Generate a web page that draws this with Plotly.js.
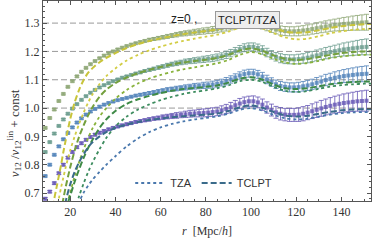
<!DOCTYPE html>
<html>
<head>
<meta charset="utf-8">
<script src="https://cdn.plot.ly/plotly-3.0.1.min.js"></script>
<style>html,body{margin:0;padding:0;background:#fff;}#chart{width:374px;height:242px;}</style>
</head>
<body>
<div id="chart"></div>
<script>
// separations r (simulation points)
const rSim = [9,11,13,15,17,19,21,23,25,27,29,31,33,35,37,39,41,43,45,47,49,51,53,55,57,59,61,63,65,67,69,71,73,75,77,79,81,83,85,87,89,91,93,95,97,99,101,103,105,107,109,111,113,115,117,119,121,123,125,127,129,131,133,135,137,139,141,143,145,147,149,151];
// simulation values (with offsets), four groups top to bottom
const sim1 = [0.93,0.965,0.995,1.025,1.05,1.075,1.095,1.112,1.128,1.142,1.155,1.166,1.176,1.185,1.193,1.2,1.207,1.213,1.219,1.224,1.229,1.233,1.237,1.241,1.244,1.247,1.25,1.253,1.256,1.259,1.262,1.264,1.266,1.268,1.27,1.272,1.274,1.276,1.278,1.281,1.285,1.289,1.293,1.298,1.301,1.303,1.302,1.299,1.294,1.288,1.282,1.277,1.274,1.272,1.271,1.271,1.272,1.274,1.276,1.279,1.282,1.285,1.288,1.291,1.293,1.295,1.297,1.298,1.3,1.301,1.302,1.303];
const sim2 = [0.845,0.88,0.91,0.937,0.96,0.98,0.998,1.014,1.029,1.042,1.054,1.064,1.073,1.081,1.088,1.095,1.101,1.107,1.112,1.117,1.122,1.126,1.131,1.135,1.139,1.143,1.147,1.151,1.155,1.158,1.161,1.164,1.166,1.168,1.17,1.172,1.174,1.176,1.179,1.183,1.188,1.194,1.201,1.208,1.213,1.216,1.216,1.212,1.205,1.196,1.188,1.181,1.176,1.173,1.172,1.172,1.173,1.175,1.178,1.182,1.186,1.19,1.194,1.198,1.201,1.204,1.207,1.209,1.211,1.213,1.215,1.216];
const sim3 = [0.76,0.8,0.835,0.865,0.89,0.912,0.932,0.949,0.964,0.977,0.988,0.997,1.005,1.012,1.018,1.023,1.028,1.032,1.036,1.04,1.044,1.047,1.05,1.053,1.056,1.059,1.062,1.065,1.067,1.069,1.071,1.073,1.075,1.077,1.078,1.08,1.081,1.083,1.086,1.09,1.095,1.101,1.108,1.115,1.12,1.123,1.123,1.119,1.111,1.101,1.092,1.084,1.078,1.075,1.073,1.073,1.074,1.077,1.08,1.084,1.089,1.094,1.099,1.103,1.107,1.11,1.113,1.115,1.117,1.119,1.12,1.121];
const sim4 = [0.68,0.705,0.735,0.77,0.8,0.825,0.845,0.862,0.876,0.888,0.898,0.906,0.913,0.919,0.925,0.93,0.935,0.939,0.943,0.947,0.951,0.954,0.957,0.96,0.963,0.965,0.968,0.97,0.972,0.974,0.976,0.978,0.98,0.981,0.982,0.983,0.984,0.986,0.988,0.992,0.997,1.003,1.01,1.016,1.021,1.024,1.024,1.02,1.012,1.002,0.993,0.985,0.98,0.977,0.976,0.976,0.977,0.98,0.984,0.989,0.994,0.999,1.004,1.008,1.012,1.015,1.018,1.02,1.022,1.024,1.025,1.026];
// error bars
const errA = [0.003,0.003,0.003,0.003,0.003,0.003,0.003,0.003,0.003,0.003,0.003,0.003,0.003,0.003,0.003,0.003,0.003,0.003,0.003,0.003,0.003,0.004,0.004,0.005,0.005,0.006,0.006,0.007,0.007,0.008,0.008,0.009,0.009,0.01,0.01,0.011,0.011,0.012,0.012,0.012,0.013,0.013,0.013,0.013,0.014,0.014,0.014,0.014,0.015,0.015,0.015,0.015,0.016,0.016,0.016,0.016,0.017,0.017,0.018,0.018,0.019,0.019,0.02,0.02,0.021,0.022,0.023,0.024,0.025,0.026,0.027,0.028];
const errB = [0.004,0.004,0.004,0.004,0.004,0.004,0.004,0.004,0.004,0.004,0.004,0.004,0.004,0.004,0.004,0.004,0.004,0.004,0.004,0.004,0.004,0.005,0.005,0.006,0.006,0.007,0.008,0.008,0.009,0.01,0.01,0.011,0.012,0.012,0.013,0.014,0.014,0.015,0.015,0.016,0.016,0.017,0.017,0.018,0.018,0.018,0.019,0.019,0.02,0.02,0.021,0.021,0.022,0.022,0.023,0.023,0.024,0.025,0.025,0.026,0.027,0.028,0.028,0.029,0.03,0.031,0.032,0.033,0.034,0.035,0.036,0.037];
// model curves
const rModel = [8,9,10,11,12,13,14,15,16,17,18,20,22,24,26,28,30,33,36,40,45,50,55,60,65,70,75,80,85,90,95,100,105,110,115,120,125,130,135,140,145,150,153];
const tclpt1 = [null,null,null,null,0.62,0.68,0.72,0.76,0.8,0.845,0.885,0.96,1.02,1.065,1.1,1.125,1.142,1.162,1.177,1.194,1.212,1.226,1.237,1.246,1.254,1.261,1.267,1.272,1.278,1.288,1.302,1.308,1.299,1.283,1.27,1.266,1.268,1.275,1.283,1.289,1.293,1.296,1.297];
const tza1 = [null,null,null,null,null,null,0.64,0.68,0.72,0.755,0.79,0.85,0.9,0.945,0.985,1.02,1.05,1.085,1.113,1.14,1.168,1.188,1.204,1.217,1.228,1.237,1.245,1.252,1.259,1.27,1.284,1.29,1.282,1.265,1.25,1.243,1.245,1.254,1.264,1.271,1.276,1.279,1.28];
const tclpt2 = [null,null,null,null,null,null,null,0.6,0.64,0.68,0.72,0.79,0.85,0.9,0.94,0.975,1.005,1.04,1.065,1.088,1.108,1.123,1.135,1.145,1.154,1.161,1.166,1.171,1.177,1.188,1.203,1.21,1.202,1.186,1.174,1.17,1.173,1.18,1.188,1.194,1.198,1.2,1.201];
const tza2 = [null,null,null,null,null,null,null,null,null,null,0.64,0.7,0.76,0.81,0.855,0.895,0.93,0.97,1.0,1.033,1.064,1.087,1.104,1.117,1.128,1.137,1.144,1.151,1.158,1.17,1.188,1.198,1.19,1.174,1.161,1.156,1.159,1.167,1.176,1.182,1.186,1.188,1.189];
const tclpt3 = [null,null,null,null,null,null,null,null,null,null,0.64,0.69,0.74,0.785,0.825,0.86,0.89,0.93,0.96,0.99,1.015,1.031,1.043,1.053,1.061,1.067,1.071,1.075,1.08,1.09,1.104,1.109,1.1,1.083,1.07,1.067,1.07,1.077,1.084,1.089,1.092,1.094,1.094];
const tza3 = [null,null,null,null,null,null,null,null,null,null,null,null,0.64,0.69,0.735,0.775,0.81,0.855,0.895,0.935,0.97,0.995,1.013,1.028,1.04,1.05,1.057,1.063,1.07,1.08,1.095,1.1,1.092,1.075,1.061,1.057,1.06,1.068,1.076,1.081,1.084,1.086,1.086];
const tclpt4 = [null,null,null,null,null,null,null,null,0.6,0.635,0.67,0.73,0.775,0.81,0.838,0.862,0.88,0.9,0.915,0.93,0.942,0.951,0.958,0.963,0.968,0.971,0.974,0.977,0.981,0.99,1.003,1.009,1.001,0.986,0.974,0.97,0.973,0.98,0.987,0.992,0.995,0.996,0.996];
const tza4 = [null,null,null,null,null,null,null,null,null,null,null,null,0.62,0.668,0.702,0.727,0.748,0.775,0.8,0.83,0.865,0.893,0.915,0.932,0.944,0.953,0.96,0.965,0.971,0.98,0.994,1.0,0.991,0.976,0.964,0.96,0.963,0.97,0.977,0.982,0.985,0.986,0.986];
const gridY = [1.0, 1.1, 1.2, 1.3];
const legendNames = ['TZA', 'TCLPT'];

const simSets = [
  {y: sim1, e: errA, c: 'rgba(140,165,115,0.8)'},
  {y: sim2, e: errA, c: 'rgba(105,155,140,0.8)'},
  {y: sim3, e: errA, c: 'rgba(80,130,185,0.8)'},
  {y: sim4, e: errB, c: 'rgba(100,85,180,0.8)'}
];
const modelSets = [
  {d: tclpt1, t: tza1, cd: '#c8c43a', ct: '#d2cd45'},
  {d: tclpt2, t: tza2, cd: '#74a03e', ct: '#88b23c'},
  {d: tclpt3, t: tza3, cd: '#3f8a47', ct: '#3c8c5e'},
  {d: tclpt4, t: tza4, cd: '#3a6b8a', ct: '#4a78ad'}
];

const traces = [];
simSets.forEach(s => {
  traces.push({
    x: rSim, y: s.y, type: 'scatter', mode: 'markers', showlegend: false, hoverinfo: 'skip',
    marker: {size: 4, color: s.c, symbol: 'square'},
    error_y: {type: 'data', array: s.e, visible: true, color: s.c, thickness: 1, width: 2.5}
  });
});
modelSets.forEach((m, i) => {
  traces.push({
    x: rModel, y: m.t, type: 'scatter', mode: 'lines', name: legendNames[0],
    showlegend: i === 3,
    line: {color: m.ct, width: 1.8, dash: 'dot', shape: 'spline', smoothing: 0.8}
  });
  traces.push({
    x: rModel, y: m.d, type: 'scatter', mode: 'lines', name: legendNames[1],
    showlegend: i === 3,
    line: {color: m.cd, width: 2, dash: '6px,3px', shape: 'spline', smoothing: 0.8}
  });
});

const serif = 'Liberation Serif, Times New Roman, serif';
const sans = 'Liberation Sans, Arial, sans-serif';

const layout = {
  width: 374, height: 242,
  margin: {l: 43, r: 3, t: 1, b: 41},
  paper_bgcolor: '#fff', plot_bgcolor: '#fff',
  showlegend: true,
  legend: {orientation: 'h', x: 0.49, xanchor: 'center', y: 0.09, yanchor: 'middle',
    font: {family: sans, size: 11, color: '#333'}, bgcolor: 'rgba(0,0,0,0)', traceorder: 'normal'},
  xaxis: {
    range: [8, 153], tick0: 0, dtick: 20, ticks: 'inside', ticklen: 4, tickcolor: '#555',
    mirror: 'allticks', showline: true, linecolor: '#555', linewidth: 1,
    showgrid: false, zeroline: false,
    minor: {dtick: 5, ticks: 'inside', ticklen: 2, tickcolor: '#555', showgrid: false},
    tickfont: {family: serif, size: 12, color: '#333'},
    title: {text: '<i>r</i>  [Mpc/<i>h</i>]', font: {family: serif, size: 12, color: '#333'}, standoff: 8}
  },
  yaxis: {
    range: [0.672, 1.378], tick0: 0.7, dtick: 0.1, tickformat: '.1f', ticks: 'inside', ticklen: 4, tickcolor: '#555',
    mirror: 'allticks', showline: true, linecolor: '#555', linewidth: 1,
    showgrid: false, zeroline: false,
    minor: {dtick: 0.02, ticks: 'inside', ticklen: 2, tickcolor: '#555', showgrid: false},
    tickfont: {family: serif, size: 12, color: '#333'}
  },
  shapes: gridY.map(v => ({type: 'line', xref: 'paper', x0: 0, x1: 1, yref: 'y', y0: v, y1: v,
    line: {color: '#999', width: 1, dash: '6px,3px'}, layer: 'below'})),
  annotations: [
    {text: '<i>v</i><sub>12</sub> /<i>v</i><sub>12</sub><sup>lin</sup> + const', xref: 'paper', yref: 'paper',
      x: -0.088, y: 0.34, xanchor: 'center', yanchor: 'middle', textangle: -90, showarrow: false,
      font: {family: serif, size: 13, color: '#333'}},
    {text: 'z=0 ,', xref: 'paper', yref: 'paper', x: 0.43, y: 0.955, showarrow: false,
      font: {family: sans, size: 12, color: '#222'}},
    {text: 'TCLPT/TZA', xref: 'paper', yref: 'paper', x: 0.622, y: 0.948, showarrow: false,
      font: {family: sans, size: 11, color: '#222'}, bgcolor: '#eeeeee', bordercolor: '#999', borderwidth: 1, borderpad: 2}
  ]
};

Plotly.newPlot('chart', traces, layout, {staticPlot: true, displayModeBar: false});
</script>
</body>
</html>
